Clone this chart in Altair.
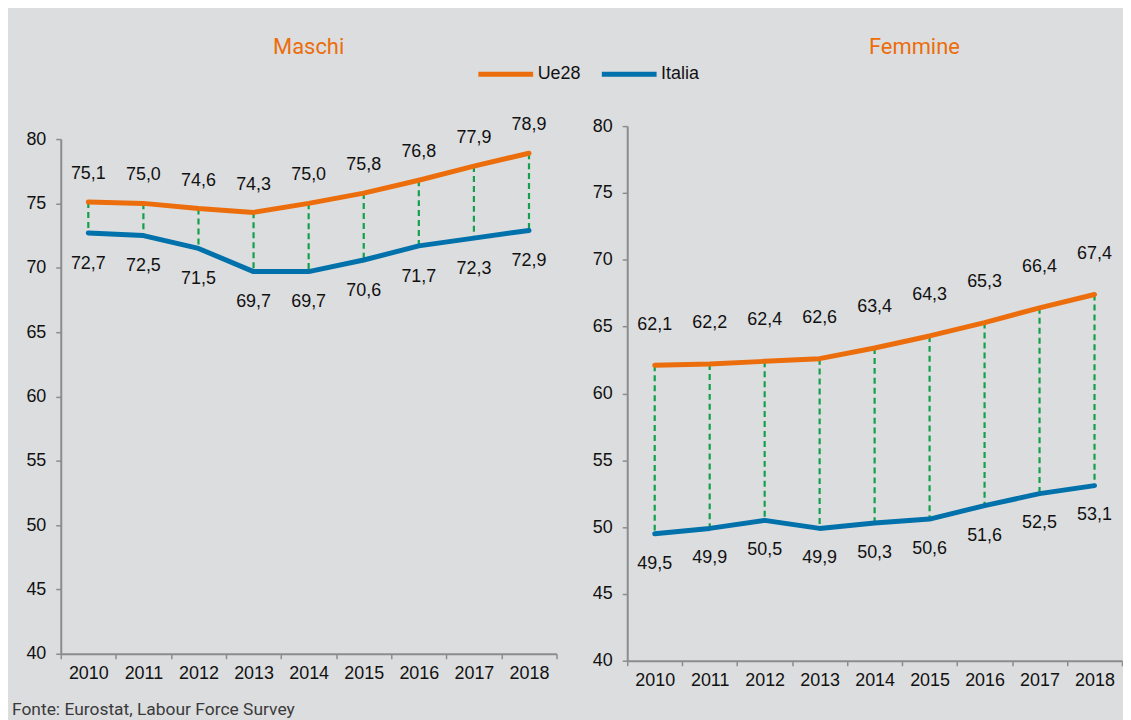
import altair as alt
import pandas as pd

years = [2010, 2011, 2012, 2013, 2014, 2015, 2016, 2017, 2018]
series = ["Ue28", "Italia"]
maschi_ue = [75.1, 75.0, 74.6, 74.3, 75.0, 75.8, 76.8, 77.9, 78.9]
maschi_it = [72.7, 72.5, 71.5, 69.7, 69.7, 70.6, 71.7, 72.3, 72.9]
femmine_ue = [62.1, 62.2, 62.4, 62.6, 63.4, 64.3, 65.3, 66.4, 67.4]
femmine_it = [49.5, 49.9, 50.5, 49.9, 50.3, 50.6, 51.6, 52.5, 53.1]
y_ticks = [40, 45, 50, 55, 60, 65, 70, 75, 80]

ORANGE = "#ec6d0b"
BLUE = "#0071aa"
GREEN = "#12a04a"
TXT = "#111111"
AXC = "#8c8c8c"
BG = "#dcdddf"
TFONT = "Roboto, sans-serif"
SANS = "Liberation Sans, Arial, sans-serif"
FS = 18


def panel(ue, it, title, w, h, yrange, title_dx, dy_up, dy_down):
    long = pd.DataFrame({
        "year": [str(y) for y in years] * 2,
        "serie": [series[0]] * len(years) + [series[1]] * len(years),
        "value": ue + it,
    })
    wide = pd.DataFrame({"year": [str(y) for y in years], "ue": ue, "it": it})

    x = alt.X("year:O",
              scale=alt.Scale(type="band", paddingInner=0, paddingOuter=0),
              axis=alt.Axis(title=None, labelAngle=0, tickBand="extent",
                            labelFontSize=FS, labelFont=SANS, labelColor=TXT,
                            labelPadding=6, tickSize=5, tickColor=AXC,
                            domainColor=AXC, domainWidth=2, tickWidth=1.5,
                            grid=False))
    yscale = alt.Scale(domain=[40, 80], range=yrange, nice=False, zero=False)
    yaxis = alt.Axis(title=None, values=y_ticks, labelFontSize=FS, labelFont=SANS,
                     labelColor=TXT, labelPadding=10, tickSize=5, tickColor=AXC,
                     domainColor=AXC, domainWidth=2, tickWidth=1.5, grid=False)

    rules = alt.Chart(wide).mark_rule(color=GREEN, strokeWidth=2.2,
                                      strokeDash=[6, 4]).encode(
        x=x, y=alt.Y("ue:Q", scale=yscale, axis=yaxis), y2="it:Q")

    lines = alt.Chart(long).mark_line(strokeWidth=5, strokeCap="round",
                                      strokeJoin="round").encode(
        x=x,
        y=alt.Y("value:Q", scale=yscale, axis=yaxis),
        color=alt.Color("serie:N",
                        scale=alt.Scale(domain=series, range=[ORANGE, BLUE]),
                        sort=series,
                        legend=alt.Legend(title=None, orient="none",
                                          direction="horizontal",
                                          legendX=417, legendY=-82,
                                          symbolType="stroke",
                                          symbolStrokeWidth=5,
                                          symbolSize=3025,
                                          labelFontSize=FS, labelFont=SANS,
                                          labelColor=TXT, labelOffset=2,
                                          columnPadding=10)),
        detail="serie:N",
    )

    base_txt = alt.Chart(long).transform_calculate(
        lab="replace(format(datum.value, '.1f'), '.', ',')")
    txt_up = base_txt.transform_filter(alt.datum.serie == series[0]).mark_text(
        fontSize=FS, font=SANS, color=TXT, dy=dy_up).encode(
        x=x, y=alt.Y("value:Q", scale=yscale, axis=yaxis), text="lab:N")
    txt_dn = base_txt.transform_filter(alt.datum.serie == series[1]).mark_text(
        fontSize=FS, font=SANS, color=TXT, dy=dy_down).encode(
        x=x, y=alt.Y("value:Q", scale=yscale, axis=yaxis), text="lab:N")

    return alt.layer(rules, lines, txt_up, txt_dn).properties(
        width=w, height=h,
        title=alt.TitleParams(title, font=TFONT, fontSize=22, color=ORANGE,
                              fontWeight="normal", offset=58, anchor="middle",
                              dx=title_dx))


left = panel(maschi_ue, maschi_it, "Maschi", 498, 530, [530, 13], 0, -28, 31)
right = panel(femmine_ue, femmine_it, "Femmine", 497, 537, [537, 0], 40, -41, 30)

chart = alt.concat(left, right, columns=2, spacing=34, align="none").properties(
    padding={"left": 3, "top": 26, "right": 0, "bottom": 20},
    background=BG,
    title=alt.TitleParams("Fonte: Eurostat, Labour Force Survey", orient="bottom",
                          anchor="start", font=TFONT, fontSize=17.5,
                          fontWeight="normal", color="#3a3a3a", offset=12, dx=-14),
).configure_view(stroke=None)

chart.save("out.html", embed_options={"renderer": "svg", "actions": False})
